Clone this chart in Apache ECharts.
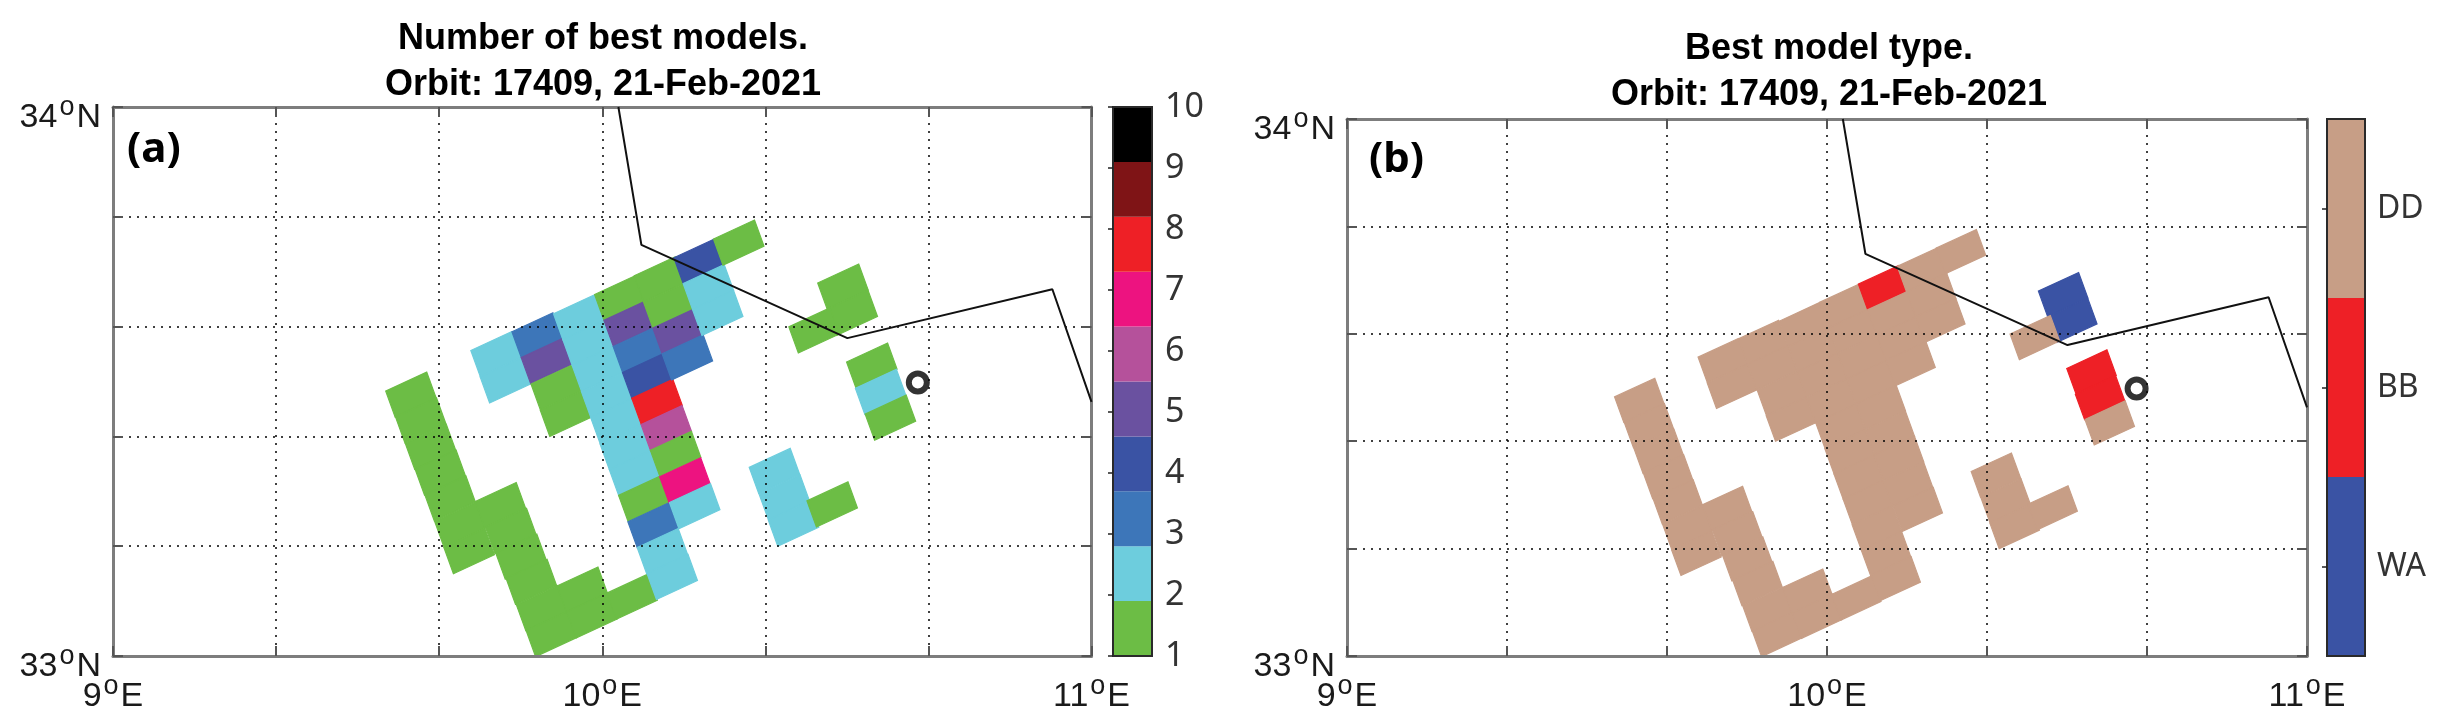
<!DOCTYPE html>
<html>
<head>
<meta charset="utf-8">
<title>Best models</title>
<script src="https://cdn.jsdelivr.net/npm/echarts@6/dist/echarts.min.js"></script>
<style>
html,body{margin:0;padding:0;background:#fff;}
#chart{width:2446px;height:725px;}
</style>
</head>
<body>
<div id="chart"></div>
<script>
// swath cells, centre of each pixel in degrees
var cellLon = [
  9.609,9.629,9.649,9.669,9.689,9.709,9.728,
  9.792,9.813,9.834,9.855,9.876,9.896,
  9.959,9.979,10.061,
  9.783,9.802,
  9.867,9.886,9.906,9.925,
  9.952,9.971,9.990,10.009,10.028,10.047,10.066,10.085,10.104,10.123,10.143,
  10.036,10.055,10.074,10.093,10.112,10.131,10.150,10.169,10.189,
  10.117,10.136,10.155,10.174,
  10.198,10.217,10.236,
  10.279,
  10.352,10.372,10.391,10.470,
  10.492,10.511,10.433,
  10.551,10.569,10.589
];
var cellLat = [
  33.476,33.429,33.381,33.334,33.287,33.239,33.191,
  33.275,33.228,33.181,33.135,33.087,33.040,
  33.121,33.074,33.108,
  33.550,33.502,
  33.584,33.537,33.489,33.441,
  33.617,33.570,33.523,33.475,33.428,33.380,33.333,33.286,33.238,33.191,33.144,
  33.652,33.605,33.557,33.510,33.463,33.415,33.368,33.320,33.273,
  33.686,33.638,33.591,33.544,
  33.719,33.672,33.625,
  33.753,
  33.337,33.289,33.241,33.276,
  33.673,33.625,33.593,
  33.529,33.481,33.434
];
var bestCount = [
  1,1,1,1,1,1,1,
  1,1,1,1,1,1,
  1,1,1,
  2,2,
  3,5,1,1,
  2,2,2,2,2,2,2,1,3,2,2,
  1,5,3,4,8,6,1,7,2,
  1,1,5,3,
  4,2,2,
  1,
  2,2,2,1,
  1,1,1,
  1,2,1
];
// 1 WA, 2 BB, 3 DD
var bestType = [
  3,3,3,3,3,3,3,
  3,3,3,3,3,3,
  3,3,3,
  3,3,
  3,3,3,3,
  3,3,3,3,3,3,3,3,3,3,3,
  3,3,3,3,3,3,3,3,3,
  2,3,3,3,
  3,3,3,
  3,
  3,3,3,3,
  1,1,3,
  2,2,3
];

var coastLon = [10.033,10.08,10.501,10.92,11];
var coastLat = [34,33.749,33.579,33.668,33.463];
var siteLon = 10.645;
var siteLat = 33.498;

var lonTicks = [9,9.3333,9.6667,10,10.3333,10.6667,11];
var latTicks = [33,33.2,33.4,33.6,33.8,34];
var lonLabels = [9,10,11];
var latLabels = [33,34];

var countColors = ['#6cbd45','#6dcddd','#3d76b9','#3a53a4','#6a51a0','#b5519b','#ed1380','#ee2026','#7f1416','#000000'];
var countTicks = [1,2,3,4,5,6,7,8,9,10];
var typeColors = ['#3a53a4','#ee2026','#c79e86'];
var typeNames = ['WA','BB','DD'];

var myChart = echarts.init(document.getElementById('chart'));

var sansFont = '"Liberation Sans"';
var barFont = '"Noto Sans"';

// half size of a cell along and across the swath
var acrossLon = 0.0419, acrossLat = 0.0173;
var alongLon = 0.0097, alongLat = -0.0238;

function cellItem(colors){
  return function(params, api){
    var lon = api.value(0), lat = api.value(1);
    var pts = [
      api.coord([lon-acrossLon-alongLon, lat-acrossLat-alongLat]),
      api.coord([lon+acrossLon-alongLon, lat+acrossLat-alongLat]),
      api.coord([lon+acrossLon+alongLon, lat+acrossLat+alongLat]),
      api.coord([lon-acrossLon+alongLon, lat-acrossLat+alongLat])
    ];
    var c = colors[api.value(2)-1];
    return {type:'polygon', shape:{points:pts}, style:{fill:c, stroke:c, lineWidth:1.2}};
  };
}

function bandItem(colors, lo, step){
  return function(params, api){
    var i = api.value(0);
    var a = api.coord([0, lo+i*step]);
    var b = api.coord([1, lo+(i+1)*step]);
    return {type:'rect', shape:{x:a[0], y:b[1], width:b[0]-a[0], height:a[1]-b[1]}, style:{fill:colors[i]}};
  };
}

// frame round a colour bar, drawn over the bands
function frameItem(lo, hi){
  return function(params, api){
    var a = api.coord([0, lo]);
    var b = api.coord([1, hi]);
    return {type:'rect', shape:{x:a[0], y:b[1], width:b[0]-a[0], height:a[1]-b[1]}, style:{fill:'none', stroke:'#2a2a2a', lineWidth:2}};
  };
}

function latFormat(v){
  return '{n|'+v+'}{s|o}{n|N}';
}
function lonFormat(v){
  return '{n|'+v+'}{s|o}{n|E}';
}
var degRich = {
  n:{fontFamily:sansFont, fontSize:34, color:'#1a1a1a'},
  s:{fontFamily:sansFont, fontSize:27, color:'#1a1a1a', padding:[0,2,20,2]}
};

function mapAxes(grid){
  var line = {show:true, onZero:false, lineStyle:{color:'#7d7d7d', width:3}};
  var tick = {show:true, inside:true, length:10, lineStyle:{color:'#555', width:2}};
  return {
    x:[{
      gridIndex:grid, type:'value', min:9, max:11, position:'bottom', z:3,
      axisLine:line,
      axisTick:Object.assign({customValues:lonTicks}, tick),
      axisLabel:{show:true, customValues:lonLabels, margin:17, formatter:lonFormat, rich:degRich},
      splitLine:{show:true, lineStyle:{color:'rgba(0,0,0,0.75)', width:2, type:[2,6]}}
    },{
      gridIndex:grid, type:'value', min:9, max:11, position:'top', z:3,
      axisLine:line,
      axisTick:Object.assign({customValues:lonTicks}, tick),
      axisLabel:{show:false}, splitLine:{show:false}
    }],
    y:[{
      gridIndex:grid, type:'value', min:33, max:34, position:'left', z:3,
      axisLine:line,
      axisTick:Object.assign({customValues:latTicks}, tick),
      axisLabel:{show:true, customValues:latLabels, margin:12, padding:[22,0,0,0], formatter:latFormat, rich:degRich},
      splitLine:{show:true, lineStyle:{color:'rgba(0,0,0,0.75)', width:2, type:[2,6]}}
    },{
      gridIndex:grid, type:'value', min:33, max:34, position:'right', z:3,
      axisLine:line,
      axisTick:Object.assign({customValues:latTicks}, tick),
      axisLabel:{show:false}, splitLine:{show:false}
    }]
  };
}

function cellData(values){
  var out = [];
  for(var i=0;i<cellLon.length;i++){
    out.push([cellLon[i], cellLat[i], values[i]]);
  }
  return out;
}
function coastData(){
  var out = [];
  for(var i=0;i<coastLon.length;i++){
    out.push([coastLon[i], coastLat[i]]);
  }
  return out;
}
function bandData(colors){
  var out = [];
  for(var i=0;i<colors.length;i++){
    out.push([i]);
  }
  return out;
}

// x axes 0,1 and y axes 0,1 belong to panel a, 3,4 to panel b
var axesA = mapAxes(0);
var axesB = mapAxes(2);

function mapSeries(xi, yi, colors, values){
  return [{
    type:'custom', xAxisIndex:xi, yAxisIndex:yi, z:2, silent:true,
    renderItem:cellItem(colors), data:cellData(values), encode:{x:0, y:1}, clip:false
  },{
    type:'line', xAxisIndex:xi, yAxisIndex:yi, z:5, silent:true,
    data:coastData(), showSymbol:false, symbol:'none',
    lineStyle:{color:'#111', width:2}
  },{
    type:'scatter', xAxisIndex:xi, yAxisIndex:yi, z:6, silent:true,
    data:[[siteLon, siteLat]], symbol:'circle', symbolSize:18,
    itemStyle:{color:'#fff', borderColor:'#000', borderWidth:6}
  }];
}

function barSeries(axis, colors, lo, step, hi){
  return [{
    type:'custom', xAxisIndex:axis, yAxisIndex:axis, z:1, silent:true,
    renderItem:bandItem(colors, lo, step), data:bandData(colors), encode:{y:0}
  },{
    type:'custom', xAxisIndex:axis, yAxisIndex:axis, z:2, silent:true,
    renderItem:frameItem(lo, hi), data:[[0]], encode:{y:0}, clip:false
  }];
}

function titleBlock(text, center, top){
  return {
    text:text, left:center, top:top, textAlign:'center',
    textStyle:{fontFamily:sansFont, fontWeight:'bold', fontSize:36, lineHeight:46, color:'#000'}
  };
}
function letterBlock(text, left, top){
  return {
    text:text, left:left, top:top,
    textStyle:{fontFamily:barFont, fontWeight:'bold', fontSize:42, color:'#000'}
  };
}

var option = {
  animation:false,
  backgroundColor:'#fff',
  title:[
    titleBlock('Number of best models.\nOrbit: 17409, 21-Feb-2021', 598, 11),
    titleBlock('Best model type.\nOrbit: 17409, 21-Feb-2021', 1824, 21),
    letterBlock('(a)', 122, 124),
    letterBlock('(b)', 1364, 134)
  ],
  grid:[
    {left:113, top:107, width:978.5, height:549},
    {left:1113, top:107, width:39, height:549},
    {left:1347, top:119, width:960, height:537},
    {left:2327, top:119, width:38, height:537}
  ],
  xAxis:[
    axesA.x[0], axesA.x[1],
    {gridIndex:1, type:'value', min:0, max:1, show:false},
    axesB.x[0], axesB.x[1],
    {gridIndex:3, type:'value', min:0, max:1, show:false}
  ],
  yAxis:[
    axesA.y[0], axesA.y[1],
    {
      gridIndex:1, type:'value', min:1, max:10, position:'right', z:3,
      axisLine:{show:false},
      axisTick:{show:true, inside:true, length:5, customValues:countTicks, lineStyle:{color:'#222', width:1.5}},
      axisLabel:{show:true, customValues:countTicks, margin:13, fontFamily:barFont, fontSize:34, color:'#333'},
      splitLine:{show:false}
    },
    axesB.y[0], axesB.y[1],
    {
      gridIndex:3, type:'value', min:0, max:3, position:'right', z:3,
      axisLine:{show:false},
      axisTick:{show:true, inside:true, length:5, customValues:[0.5,1.5,2.5], lineStyle:{color:'#222', width:1.5}},
      axisLabel:{
        show:true, customValues:[0.5,1.5,2.5], margin:12, fontFamily:barFont, fontSize:32, color:'#333',
        formatter:function(v){ return typeNames[Math.floor(v)]; }
      },
      splitLine:{show:false}
    }
  ],
  series:mapSeries(0, 0, countColors, bestCount)
    .concat(barSeries(2, countColors, 1, 0.9, 10))
    .concat(mapSeries(3, 3, typeColors, bestType))
    .concat(barSeries(5, typeColors, 0, 1, 3))
};
myChart.setOption(option);
</script>
</body>
</html>
